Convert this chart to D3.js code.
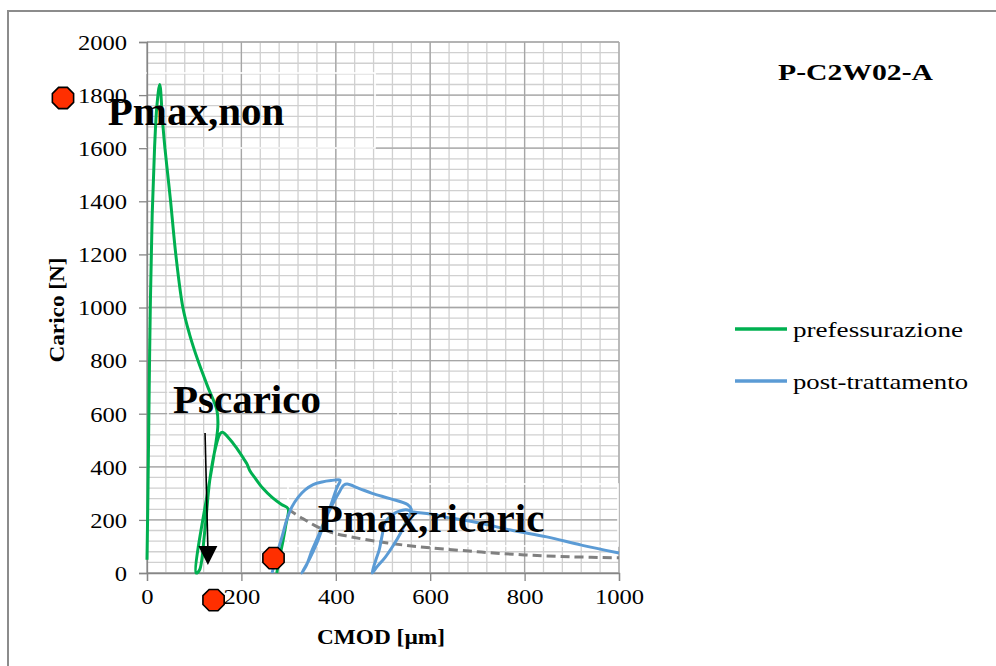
<!DOCTYPE html>
<html>
<head>
<meta charset="utf-8">
<script src="https://cdn.jsdelivr.net/npm/d3@7"></script>
<style>
  body { margin: 0; background: #fff; }
  svg { display: block; }
  svg text { font-family: "Liberation Serif", "Times New Roman", serif !important; }
</style>
</head>
<body>
<svg width="996" height="666"></svg>
<script>
// values (CMOD in µm, Carico in N)
const xTicks = [0, 200, 400, 600, 800, 1000]
const yTicks = [0, 200, 400, 600, 800, 1000, 1200, 1400, 1600, 1800, 2000]

const prefessurazione = [
  [0, 50], [2, 300], [4, 600], [7, 1000], [11, 1350], [16, 1600], [21, 1760], [27, 1840],
  [33, 1700], [38, 1600], [44, 1500], [50, 1400], [61, 1200], [76, 1000], [90, 900],
  [108, 800], [129, 700], [148, 614], [150, 550],
  [104, 0], [111, 10], [122, 150], [133, 350], [145, 470], [155, 525], [160, 530],
  [175, 505], [190, 470], [205, 430], [212, 410], [218, 385], [228, 360], [245, 320],
  [265, 285], [285, 258], [299, 242],
  [294, 180], [288, 120], [281, 60], [275, 0]
]

const postTrattamento = [
  [265, 0], [275, 70], [286, 136], [296, 200], [307, 249], [320, 285], [335, 313],
  [352, 333], [371, 343], [390, 348], [409, 350],
  [402, 320], [386, 237], [373, 175], [360, 113], [345, 55], [328, 0],
  [338, 30], [350, 87], [363, 140], [377, 200], [392, 255], [406, 300], [417, 331], [424, 335],
  [450, 318], [477, 300], [515, 280], [552, 258], [560, 240],
  [548, 190], [537, 150], [525, 113], [505, 60], [488, 25], [477, 0],
  [485, 50], [492, 87], [498, 140], [504, 188], [515, 212], [528, 228], [548, 238], [565, 230],
  [600, 222], [650, 205], [705, 188], [775, 160], [847, 136], [920, 105], [1000, 75]
]

const trend = [
  [299, 240], [330, 205], [360, 175], [390, 153], [430, 137], [490, 118], [550, 104],
  [600, 95], [700, 80], [800, 68], [900, 61], [1000, 57]
]

const markers = [[-178, 1789], [268, 56], [141, -102]]
const arrow = [[123, 527], [129, 30]]
const notes = [
  { text: "Pmax,non", x: -83, y: 1687 },
  { text: "Pscarico", x: 55, y: 603 },
  { text: "Pmax,ricaric", x: 362, y: 154 }
]
const series = ["prefessurazione", "post-trattamento"]
const colors = ["#00b050", "#5b9bd5"]

var svg = d3.select('svg')
const serif = '"Liberation Serif", "Times New Roman", serif'

const x = d3.scaleLinear().domain([0, 1000]).range([147, 619])
const y = d3.scaleLinear().domain([0, 2000]).range([573, 42])

// stretch text a bit wider, like the picture
const widen = (sel, k) => sel.each(function () {
  const w = this.getComputedTextLength()
  this.setAttribute('textLength', w * k)
  this.setAttribute('lengthAdjust', 'spacingAndGlyphs')
})

// outer frame
svg.append('rect')
  .attr('x', 8).attr('y', 11)
  .attr('width', 1000).attr('height', 670)
  .attr('fill', 'none').attr('stroke', '#8c8c8c').attr('stroke-width', 2)

// grid
const minorX = d3.range(0, 1001, 40)
const minorY = d3.range(0, 2001, 40)
const grid = svg.append('g')

grid.selectAll('.mx').data(minorX).enter().append('line')
  .attr('x1', d => x(d)).attr('x2', d => x(d))
  .attr('y1', y(0)).attr('y2', y(2000))
  .attr('stroke', '#d0d0d0').attr('stroke-width', 1.3)

grid.selectAll('.my').data(minorY).enter().append('line')
  .attr('y1', d => y(d)).attr('y2', d => y(d))
  .attr('x1', x(0)).attr('x2', x(1000))
  .attr('stroke', '#d0d0d0').attr('stroke-width', 1.3)

grid.selectAll('.Mx').data(xTicks).enter().append('line')
  .attr('x1', d => x(d)).attr('x2', d => x(d))
  .attr('y1', y(0)).attr('y2', y(2000))
  .attr('stroke', '#a6a6a6').attr('stroke-width', 1.3)

grid.selectAll('.My').data(yTicks).enter().append('line')
  .attr('y1', d => y(d)).attr('y2', d => y(d))
  .attr('x1', x(0)).attr('x2', x(1000))
  .attr('stroke', '#a6a6a6').attr('stroke-width', 1.3)

// white edges of the text boxes lying over the grid
const boxes = [[105, 73, 270, 75], [168, 370, 230, 88], [288, 484, 330, 62]]
svg.selectAll('.box').data(boxes).enter().append('rect')
  .attr('x', d => d[0]).attr('y', d => d[1])
  .attr('width', d => d[2]).attr('height', d => d[3])
  .attr('fill', 'none').attr('stroke', '#fff').attr('stroke-width', 1.6)

// axes
const xAxis = svg.append('g')
  .attr('transform', `translate(0,${y(0)})`)
  .call(d3.axisBottom(x).tickValues(xTicks).tickSize(8).tickFormat(d3.format('d')))
const yAxis = svg.append('g')
  .attr('transform', `translate(${x(0)},0)`)
  .call(d3.axisLeft(y).tickValues(yTicks).tickSize(8).tickFormat(d3.format('d')))

xAxis.attr('font-family', null)
yAxis.attr('font-family', null)
svg.selectAll('.domain, .tick line').attr('stroke', '#868686').attr('stroke-width', 1.3)

xAxis.selectAll('text')
  .style('font-family', serif).attr('font-size', 21).attr('fill', '#000')
  .attr('y', 16).attr('dy', '0.71em')
  .call(widen, 1.17)
yAxis.selectAll('text')
  .style('font-family', serif).attr('font-size', 21).attr('fill', '#000')
  .attr('x', -20).attr('dy', '0.35em')
  .call(widen, 1.17)

// axis titles
svg.append('text')
  .attr('x', 381).attr('y', 644)
  .attr('text-anchor', 'middle').attr('font-size', 20).attr('font-weight', 'bold')
  .text('CMOD [µm]')
  .attr('textLength', 128).attr('lengthAdjust', 'spacingAndGlyphs')

svg.append('text')
  .attr('transform', 'translate(64,310) rotate(-90)')
  .attr('text-anchor', 'middle').attr('font-size', 20).attr('font-weight', 'bold')
  .text('Carico [N]')
  .attr('textLength', 105).attr('lengthAdjust', 'spacingAndGlyphs')

// chart title
svg.append('text')
  .attr('x', 778).attr('y', 80)
  .attr('font-size', 24).attr('font-weight', 'bold')
  .text('P-C2W02-A')
  .attr('textLength', 155).attr('lengthAdjust', 'spacingAndGlyphs')

// curves
const line = d3.line()
  .x(d => x(d[0]))
  .y(d => y(d[1]))
  .curve(d3.curveCatmullRom.alpha(0.5))

svg.append('path').datum(trend)
  .attr('d', line).attr('fill', 'none')
  .attr('stroke', '#808080').attr('stroke-width', 3).attr('stroke-dasharray', '9,5')

svg.append('path').datum(prefessurazione)
  .attr('d', line).attr('fill', 'none')
  .attr('stroke', colors[0]).attr('stroke-width', 3)

svg.append('path').datum(postTrattamento)
  .attr('d', line).attr('fill', 'none')
  .attr('stroke', colors[1]).attr('stroke-width', 3)

// legend
const legend = svg.append('g')
series.forEach((name, i) => {
  const ly = 329 + i * 52
  legend.append('line')
    .attr('x1', 735).attr('x2', 787).attr('y1', ly).attr('y2', ly)
    .attr('stroke', colors[i]).attr('stroke-width', 3.5)
  legend.append('text')
    .attr('x', 793).attr('y', ly + 8)
    .attr('font-size', 22)
    .text(name)
    .attr('textLength', i == 0 ? 170 : 175).attr('lengthAdjust', 'spacingAndGlyphs')
})

// annotations
svg.selectAll('.note').data(notes).enter().append('text')
  .attr('x', d => x(d.x)).attr('y', d => y(d.y))
  .attr('font-size', 41).attr('font-weight', 'bold')
  .text(d => d.text)

// arrow
svg.append('line')
  .attr('x1', x(arrow[0][0])).attr('y1', y(arrow[0][1]))
  .attr('x2', x(arrow[1][0])).attr('y2', y(arrow[1][1]) - 16)
  .attr('stroke', '#000').attr('stroke-width', 1.6)
const tipX = x(arrow[1][0]), tipY = y(arrow[1][1])
svg.append('path')
  .attr('d', `M${tipX},${tipY} L${tipX - 9.5},${tipY - 19} L${tipX + 9.5},${tipY - 19} Z`)
  .attr('fill', '#000')

// red octagons
const octagon = (r) => d3.range(8).map(k => {
  const a = Math.PI / 8 + k * Math.PI / 4
  return [r * Math.cos(a), r * Math.sin(a)]
})
svg.selectAll('.mark').data(markers).enter().append('path')
  .attr('transform', d => `translate(${x(d[0])},${y(d[1])})`)
  .attr('d', d3.line()(octagon(11.5)) + 'Z')
  .attr('fill', '#ff2f00').attr('stroke', '#000').attr('stroke-width', 1.6)
</script>
</body>
</html>
